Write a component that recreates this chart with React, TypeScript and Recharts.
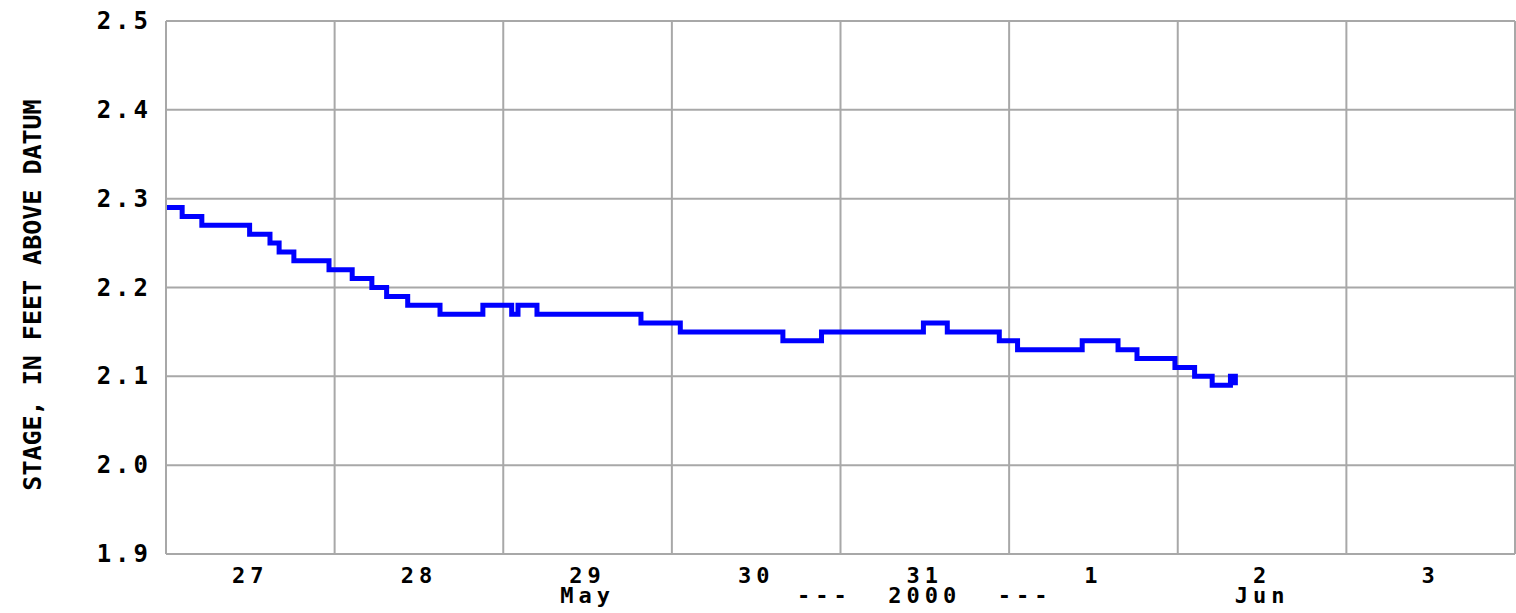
import { LineChart, Line, XAxis, YAxis, CartesianGrid, ReferenceLine } from "recharts";

// hours since 27 May 2000 00:00, and the stage reading that starts at that hour
const hours = [
  0, 2.3, 5.1, 11.9, 14.8, 16.1, 18.2, 23.2, 26.5, 29.3, 31.4, 34.4, 39.0, 45.1,
  49.2, 50.1, 52.8, 67.6, 73.2, 87.8, 93.3, 107.8, 111.2, 118.6, 121.2, 130.4,
  135.5, 138.2, 143.6, 146.4, 148.9, 151.5, 152.2,
];
const stage = [
  2.29, 2.28, 2.27, 2.26, 2.25, 2.24, 2.23, 2.22, 2.21, 2.2, 2.19, 2.18, 2.17, 2.18,
  2.17, 2.18, 2.17, 2.16, 2.15, 2.14, 2.15, 2.16, 2.15, 2.14, 2.13, 2.14,
  2.13, 2.12, 2.11, 2.1, 2.09, 2.1, 2.09,
];

// day labels sit at noon, grid lines at midnight
const dayTicks = [12, 36, 60, 84, 108, 132, 156, 180];
const dayLabels = ["27", "28", "29", "30", "31", "1", "2", "3"];
const subLabels = ["", "", "May", "", "---  2000  ---", "", "Jun", ""];
const midnights = [24, 48, 72, 96, 120, 144, 168, 192];
const yTicks = [1.9, 2.0, 2.1, 2.2, 2.3, 2.4, 2.5];

const data = hours.map((h, i) => ({ h, stage: stage[i] }));

const FONT = "'DejaVu Sans Mono', monospace";
const GRID = "#a8a8a8";

const DayTick = (props: any) => {
  const { x, y, payload } = props;
  const i = dayTicks.indexOf(payload.value);
  return (
    <g>
      <text x={x} y={y + 21} textAnchor="middle" fontFamily={FONT} fontWeight="bold" fontSize={22} letterSpacing={5} fill="#000">
        {dayLabels[i]}
      </text>
      {subLabels[i] && (
        <text x={x} y={y + 41} textAnchor="middle" fontFamily={FONT} fontWeight="bold" fontSize={22} letterSpacing={5} fill="#000" style={{ whiteSpace: "pre" }}>
          {subLabels[i]}
        </text>
      )}
    </g>
  );
};

const StageTick = (props: any) => {
  const { y, payload } = props;
  return (
    <text x={152} y={y + 8} textAnchor="end" fontFamily={FONT} fontWeight="bold" fontSize={24} letterSpacing={4} fill="#000">
      {payload.value.toFixed(1)}
    </text>
  );
};

const StageLabel = () => {
  const cx = 32;
  const cy = 295;
  return (
    <text x={cx} y={cy} textAnchor="middle" dominantBaseline="central" transform={`rotate(-90 ${cx} ${cy})`} fontFamily={FONT} fontWeight="bold" fontSize={25} fill="#000">
      STAGE, IN FEET ABOVE DATUM
    </text>
  );
};

export default function App() {
  return (
    <div style={{ position: "absolute", left: 0, top: 0, background: "#fff" }}>
      <LineChart width={1516} height={613} data={data} margin={{ top: 21, right: 1, bottom: 0, left: 0 }}>
        <CartesianGrid vertical={false} stroke={GRID} strokeWidth={2} />
        <XAxis
          dataKey="h"
          type="number"
          domain={[0, 192]}
          ticks={dayTicks}
          tick={<DayTick />}
          tickLine={false}
          axisLine={{ stroke: GRID, strokeWidth: 2 }}
          height={59}
          interval={0}
        />
        <YAxis
          type="number"
          domain={[1.9, 2.5]}
          ticks={yTicks}
          tick={<StageTick />}
          tickLine={false}
          axisLine={{ stroke: GRID, strokeWidth: 2 }}
          width={166}
          interval={0}
          label={{ content: <StageLabel /> }}
        />
        {midnights.map((m) => (
          <ReferenceLine key={m} x={m} stroke={GRID} strokeWidth={2} />
        ))}
        <Line
          type="stepAfter"
          dataKey="stage"
          stroke="#0000ff"
          strokeWidth={5}
          dot={false}
          isAnimationActive={false}
        />
      </LineChart>
    </div>
  );
}
